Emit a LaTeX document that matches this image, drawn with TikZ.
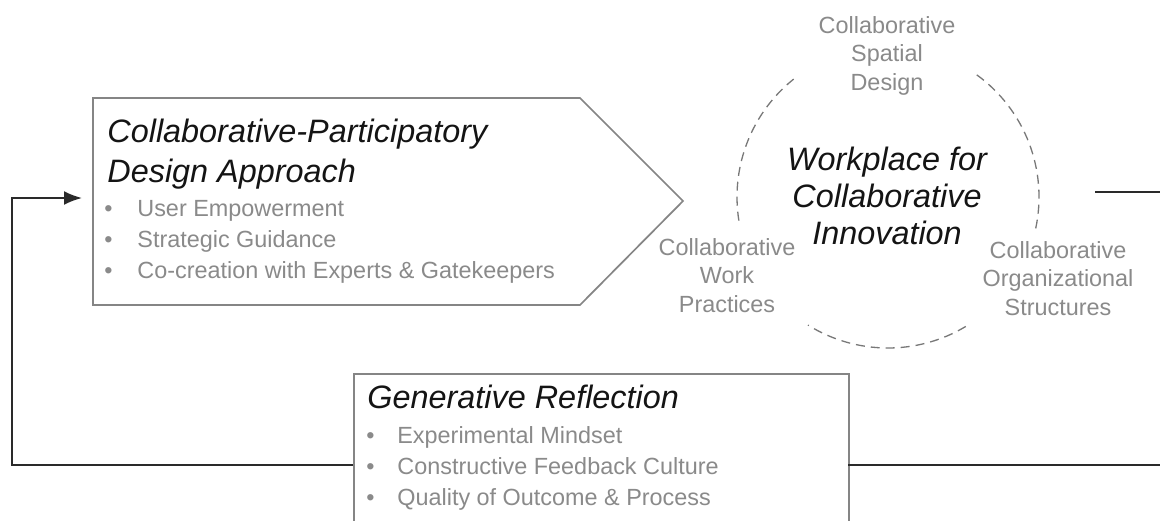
\documentclass[tikz,border=0pt]{standalone}
\usepackage{fontspec}
\setmainfont{Liberation Sans}
\usetikzlibrary{arrows.meta,calc}
\definecolor{boxgray}{HTML}{858585}
\definecolor{txtgray}{HTML}{8A8A8A}
\definecolor{linedark}{HTML}{2A2A2A}
\definecolor{dashgray}{HTML}{787878}
\definecolor{titleblack}{HTML}{141414}
\newcommand{\bitem}[2]{\makebox[#1][l]{•}#2}
\begin{document}
\begin{tikzpicture}[x=0.5pt,y=-0.5pt,
  boxline/.style={draw=boxgray,line width=0.85pt},
  conn/.style={draw=linedark,line width=1pt},
  dashc/.style={draw=dashgray,line width=0.65pt,dash pattern=on 4.5pt off 3pt},
  titletext/.style={anchor=base west,inner sep=0pt,text=titleblack,
    font=\fontsize{16.2}{20}\selectfont\itshape},
  listtext/.style={anchor=base west,inner sep=0pt,text=txtgray,
    font=\fontsize{11.7}{15.5}\selectfont},
  circlabel/.style={anchor=base,inner sep=0pt,text=txtgray,
    font=\fontsize{11.7}{14.25}\selectfont},
  centertext/.style={anchor=base,inner sep=0pt,text=titleblack,
    font=\fontsize{16.2}{18.5}\selectfont\itshape}]

\fill[white] (0,0) rectangle (1160,520);
\useasboundingbox (0,0) rectangle (1160,520);

% ---- Collaborative-Participatory Design Approach (pentagon arrow)
\coordinate (pA) at (93,98);
\coordinate (pB) at (580,98);
\coordinate (pTip) at (683,201);
\coordinate (pC) at (580,305);
\coordinate (pD) at (93,305);
\draw[boxline] (pA) -- (pB) -- (pTip) -- (pC) -- (pD) -- cycle;

\node[titletext] (cpdaTitle) at (107,142)
  {\begin{tabular}[t]{@{}l@{}}Collaborative-Participatory\\Design Approach\end{tabular}};
\node[listtext] (cpdaList) at (104,216)
  {\begin{tabular}[t]{@{}l@{}}\bitem{16.5pt}{User Empowerment}\\
   \bitem{16.5pt}{Strategic Guidance}\\
   \bitem{16.5pt}{Co-creation with Experts \& Gatekeepers}\end{tabular}};

% ---- Workplace for Collaborative Innovation (dashed circle)
\coordinate (cc) at (888,197);
\draw[dashc] ($(cc)+(-54:151)$) arc[start angle=-54,end angle=12,radius=151];
\draw[dashc] ($(cc)+(59:151)$) arc[start angle=59,end angle=122,radius=151];
\draw[dashc] ($(cc)+(171:151)$) arc[start angle=171,end angle=233,radius=151];

\node[centertext] (wci) at (887,170)
  {\begin{tabular}[t]{@{}c@{}}Workplace for\\Collaborative\\Innovation\end{tabular}};
\node[circlabel] (csd) at (887,33)
  {\begin{tabular}[t]{@{}c@{}}Collaborative\\Spatial\\Design\end{tabular}};
\node[circlabel] (cwp) at (727,255)
  {\begin{tabular}[t]{@{}c@{}}Collaborative\\Work\\Practices\end{tabular}};
\node[circlabel] (cos) at (1058,258)
  {\begin{tabular}[t]{@{}c@{}}Collaborative\\Organizational\\Structures\end{tabular}};

% ---- Generative Reflection box
\node[boxline,anchor=north west,minimum width=247.5pt,minimum height=80pt,inner sep=0pt]
  (gen) at (353,373) {};
\node[titletext] (genTitle) at (367,408) {Generative Reflection};
\node[listtext] (genList) at (366,443)
  {\begin{tabular}[t]{@{}l@{}}\bitem{15.5pt}{Experimental Mindset}\\
   \bitem{15.5pt}{Constructive Feedback Culture}\\
   \bitem{15.5pt}{Quality of Outcome \& Process}\end{tabular}};

% ---- feedback loop connectors
\coordinate (genL) at (353,465);
\coordinate (genR) at (848,465);
\coordinate (loopBL) at (12,465);
\coordinate (arrTip) at (82,198);
\coordinate (outR) at (1166,465);
\coordinate (stubA) at (1095,192);
\coordinate (stubB) at (1166,192);

\draw[conn,-{Latex[length=9pt,width=7pt]}] (genL) -- (loopBL) |- (arrTip);
\draw[conn] (genR) -- (outR);
\draw[conn] (stubA) -- (stubB);
\end{tikzpicture}
\end{document}
